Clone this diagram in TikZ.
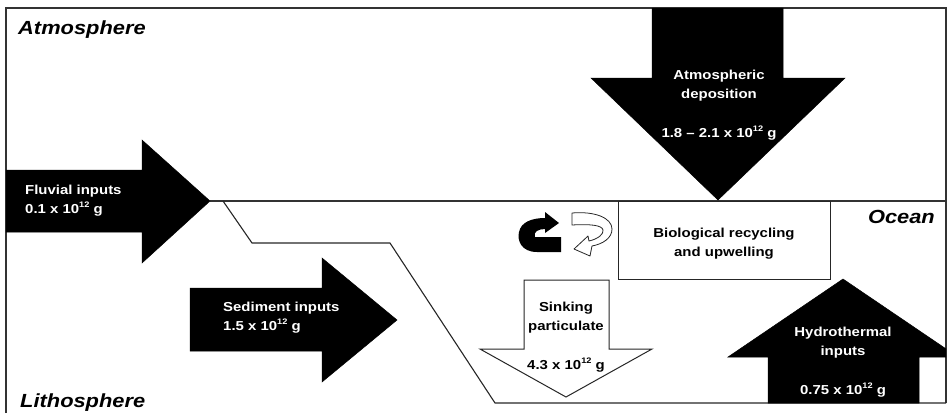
\documentclass[tikz,border=0pt]{standalone}
\usepackage{fontspec}
\setmainfont{Liberation Sans}
\newfontfamily\hv[FakeStretch=1.15,Ligatures=TeX]{Liberation Sans}
\newcommand{\tenexp}{10\raisebox{0.45em}{\fontsize{8}{8}\selectfont 12}}
\begin{document}
\begin{tikzpicture}[x=1pt,y=-1pt,
  lbl/.style={font=\hv\bfseries\itshape\fontsize{19}{22}\selectfont, inner sep=0pt},
  txt/.style={font=\hv\bfseries\fontsize{13}{19}\selectfont, inner sep=0pt, align=center},
  wtxt/.style={txt, text=white},
  blk/.style={fill=black, draw=black, line width=0.5pt, line join=miter},
  wht/.style={fill=white, draw=black!85, line width=1pt},
  frame/.style={draw=black!80, line width=1.5pt},
  basin/.style={draw=black!85, line width=1.1pt}]
\useasboundingbox (0,0) rectangle (948,413);
% frame
\draw[frame] (6,413) -- (6,8) -- (946,8) -- (946,403);
% ocean surface and basin
\draw[frame] (210,201) -- (946,201);
\draw[basin] (223,201) -- (252,243) -- (390,243) -- (495,403) -- (946,403);
% biological recycling box
\draw[wht] (618,201) rectangle (830,279);
\node[txt] (bio) at (724,244) {Biological recycling\\and upwelling};
% fluvial arrow
\fill[blk] (6,170) -- (142,170) -- (142,140) -- (210,201) -- (142,263) -- (142,232) -- (6,232) -- cycle;
\node[wtxt, align=left, anchor=west] (fluv) at (25,200.5) {Fluvial inputs\\0.1 x \tenexp{} g};
% sediment arrow
\fill[blk] (190,288) -- (322,288) -- (322,258) -- (397,320) -- (322,382) -- (322,351) -- (190,351) -- cycle;
\node[wtxt, align=left, anchor=west] (sed) at (223,317.5) {Sediment inputs\\1.5 x \tenexp{} g};
% atmospheric deposition
\fill[blk] (652,8) -- (783,8) -- (783,78) -- (845,78) -- (718,200) -- (591,78) -- (652,78) -- cycle;
\node[wtxt] (atm) at (719,86) {Atmospheric\\deposition};
\node[wtxt] (atmv) at (719,133) {1.8 – 2.1 x \tenexp{} g};
% sinking particulate
\draw[wht, fill=white] (524,280) -- (609,280) -- (609,349) -- (652,349) -- (566,397) -- (480,349) -- (524,349) -- cycle;
\node[txt] (sink) at (566,317.5) {Sinking\\particulate};
\node[txt] (sinkv) at (566,365) {4.3 x \tenexp{} g};
% hydrothermal inputs
\begin{scope}
\clip (6,8) rectangle (946,403);
\fill[blk] (768,403) -- (768,357) -- (728,357) -- (843,279) -- (958,357) -- (919,357) -- (919,403) -- cycle;
\end{scope}
\node[wtxt] (hyd) at (843,343) {Hydrothermal\\inputs};
\node[wtxt] (hydv) at (843,390) {0.75 x \tenexp{} g};
% recycling symbols
\fill[black] (561,252) -- (537,252) .. controls (521,252) and (517,240) .. (519,232)
  .. controls (521,222) and (532,218) .. (545,218) -- (545,212) -- (559,223) -- (545,233) -- (545,229)
  .. controls (538,229) and (533,232) .. (535,237) -- (561,237) -- cycle;
\draw[fill=white, draw=black!85, line width=0.8pt, line join=round] (572,213) .. controls (595,211) and (612,218) .. (612,229)
  .. controls (612,238) and (603,244) .. (592,246) -- (590,256) -- (574,249) -- (588,236) -- (589,241)
  .. controls (598,239) and (604,234) .. (603,230) .. controls (602,225) and (590,224) .. (572,225) -- cycle;
% region labels
\node[lbl, anchor=west] (atmos) at (18,30) {Atmosphere};
\node[lbl, anchor=east] (ocean) at (935,217) {Ocean};
\node[lbl, anchor=west] (litho) at (20,403) {Lithosphere};
\end{tikzpicture}
\end{document}
